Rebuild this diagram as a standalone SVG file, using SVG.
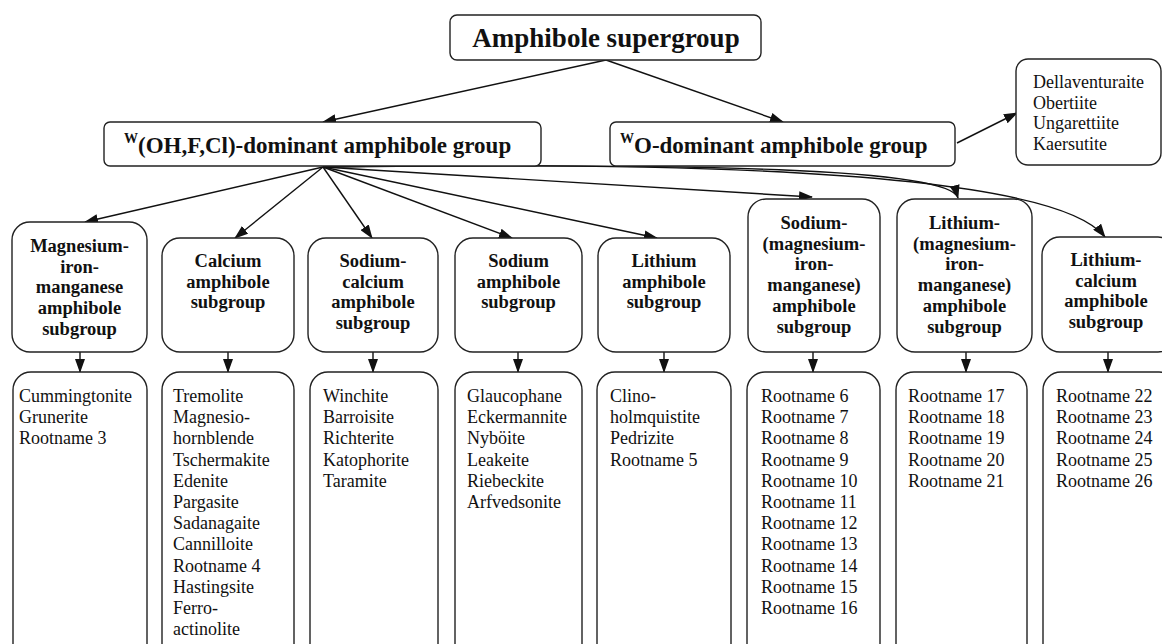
<svg xmlns="http://www.w3.org/2000/svg" width="1162" height="644" viewBox="0 0 1162 644">
<defs>
<marker id="ah" markerWidth="14" markerHeight="10" refX="13" refY="5" orient="auto" markerUnits="userSpaceOnUse">
<path d="M0,0 L14,5 L0,10 Z" fill="#111"/>
</marker>
<style>
.box{fill:#fff;stroke:#222;stroke-width:1.4}
.c{fill:none;stroke:#111;stroke-width:1.4;marker-end:url(#ah)}
.b{font-family:"Liberation Serif","Times New Roman",serif;font-weight:bold;fill:#111}
.sg{font-size:18.5px;text-anchor:middle}
.r{font-family:"Liberation Serif","Times New Roman",serif;font-size:18px;fill:#111}
</style>
</defs>
<rect width="1162" height="644" fill="#fff"/>

<g id="connectors">
<path class="c" d="M606,60 L323,122"/>
<path class="c" d="M606,60 L783,122"/>
<path class="c" d="M957,143 L1017,113"/>
<path class="c" d="M323,167 L85,222"/>
<path class="c" d="M323,167 L235,238"/>
<path class="c" d="M323,167 L372,238"/>
<path class="c" d="M323,167 L512,238"/>
<path class="c" d="M323,167 L657,238"/>
<path class="c" d="M323,167 L812,197"/>
<path class="c" d="M323,167 C700,163 950,168 958,198"/>
<path class="c" d="M323,167 C760,160 1060,178 1105,237"/>
<path class="c" d="M80,352 L80,372"/>
<path class="c" d="M228,352 L228,372"/>
<path class="c" d="M373,352 L373,372"/>
<path class="c" d="M518,352 L518,372"/>
<path class="c" d="M664,352 L664,372"/>
<path class="c" d="M813,352 L813,372"/>
<path class="c" d="M966,352 L966,372"/>
<path class="c" d="M1108,352 L1108,372"/>
</g>

<g id="supergroup">
<rect class="box" x="450" y="15" width="311" height="45" rx="7"/>
<text class="b" x="606" y="47" font-size="27" text-anchor="middle">Amphibole supergroup</text>
</g>

<g id="group-oh">
<rect class="box" x="104" y="122" width="437" height="44" rx="6"/>
<text class="b" x="124" y="153" font-size="23"><tspan font-size="14" dy="-10">W</tspan><tspan dy="10">(OH,F,Cl)-dominant amphibole group</tspan></text>
</g>

<g id="group-o">
<rect class="box" x="610" y="122" width="345" height="44" rx="6"/>
<text class="b" x="620" y="153" font-size="23"><tspan font-size="14" dy="-10">W</tspan><tspan dy="10">O-dominant amphibole group</tspan></text>
</g>

<g id="list-o">
<rect class="box" x="1016" y="59" width="145" height="106" rx="12"/>
<text class="r" font-size="16.5" x="1033" y="88">Dellaventuraite</text>
<text class="r" font-size="16.5" x="1033" y="108.5">Obertiite</text>
<text class="r" font-size="16.5" x="1033" y="129">Ungarettiite</text>
<text class="r" font-size="16.5" x="1033" y="149.5">Kaersutite</text>
</g>

<g id="sg-mgfemn">
<rect class="box" x="12" y="222" width="135" height="130" rx="18"/>
<text class="b sg" x="79.5" y="252">Magnesium-</text>
<text class="b sg" x="79.5" y="272.7">iron-</text>
<text class="b sg" x="79.5" y="293.4">manganese</text>
<text class="b sg" x="79.5" y="314.1">amphibole</text>
<text class="b sg" x="79.5" y="334.8">subgroup</text>
</g>

<g id="sg-ca">
<rect class="box" x="162" y="238" width="132" height="114" rx="18"/>
<text class="b sg" x="228" y="267">Calcium</text>
<text class="b sg" x="228" y="287.7">amphibole</text>
<text class="b sg" x="228" y="308.4">subgroup</text>
</g>

<g id="sg-naca">
<rect class="box" x="308" y="238" width="130" height="114" rx="18"/>
<text class="b sg" x="373" y="267">Sodium-</text>
<text class="b sg" x="373" y="287.7">calcium</text>
<text class="b sg" x="373" y="308.4">amphibole</text>
<text class="b sg" x="373" y="329.1">subgroup</text>
</g>

<g id="sg-na">
<rect class="box" x="455" y="238" width="127" height="114" rx="18"/>
<text class="b sg" x="518.5" y="267">Sodium</text>
<text class="b sg" x="518.5" y="287.7">amphibole</text>
<text class="b sg" x="518.5" y="308.4">subgroup</text>
</g>

<g id="sg-li">
<rect class="box" x="598" y="238" width="132" height="114" rx="18"/>
<text class="b sg" x="664" y="267">Lithium</text>
<text class="b sg" x="664" y="287.7">amphibole</text>
<text class="b sg" x="664" y="308.4">subgroup</text>
</g>

<g id="sg-na-mgfemn">
<rect class="box" x="748" y="199" width="132" height="153" rx="18"/>
<text class="b sg" x="814" y="229">Sodium-</text>
<text class="b sg" x="814" y="249.7">(magnesium-</text>
<text class="b sg" x="814" y="270.4">iron-</text>
<text class="b sg" x="814" y="291.1">manganese)</text>
<text class="b sg" x="814" y="311.8">amphibole</text>
<text class="b sg" x="814" y="332.5">subgroup</text>
</g>

<g id="sg-li-mgfemn">
<rect class="box" x="897" y="199" width="135" height="153" rx="18"/>
<text class="b sg" x="964.5" y="229">Lithium-</text>
<text class="b sg" x="964.5" y="249.7">(magnesium-</text>
<text class="b sg" x="964.5" y="270.4">iron-</text>
<text class="b sg" x="964.5" y="291.1">manganese)</text>
<text class="b sg" x="964.5" y="311.8">amphibole</text>
<text class="b sg" x="964.5" y="332.5">subgroup</text>
</g>

<g id="sg-lica">
<rect class="box" x="1042" y="237" width="134" height="115" rx="18"/>
<text class="b sg" x="1106" y="266">Lithium-</text>
<text class="b sg" x="1106" y="286.7">calcium</text>
<text class="b sg" x="1106" y="307.4">amphibole</text>
<text class="b sg" x="1106" y="328.1">subgroup</text>
</g>

<g id="list-mgfemn">
<rect class="box" x="13" y="372" width="134" height="290" rx="18"/>
<text class="r" x="19" y="402">Cummingtonite</text>
<text class="r" x="19" y="423.2">Grunerite</text>
<text class="r" x="19" y="444.4">Rootname 3</text>
</g>

<g id="list-ca">
<rect class="box" x="162" y="372" width="132" height="290" rx="18"/>
<text class="r" x="173" y="402">Tremolite</text>
<text class="r" x="173" y="423.2">Magnesio-</text>
<text class="r" x="173" y="444.4">hornblende</text>
<text class="r" x="173" y="465.6">Tschermakite</text>
<text class="r" x="173" y="486.8">Edenite</text>
<text class="r" x="173" y="508">Pargasite</text>
<text class="r" x="173" y="529.2">Sadanagaite</text>
<text class="r" x="173" y="550.4">Cannilloite</text>
<text class="r" x="173" y="571.6">Rootname 4</text>
<text class="r" x="173" y="592.8">Hastingsite</text>
<text class="r" x="173" y="614">Ferro-</text>
<text class="r" x="173" y="635.2">actinolite</text>
</g>

<g id="list-naca">
<rect class="box" x="310" y="372" width="128" height="290" rx="18"/>
<text class="r" x="323" y="402">Winchite</text>
<text class="r" x="323" y="423.2">Barroisite</text>
<text class="r" x="323" y="444.4">Richterite</text>
<text class="r" x="323" y="465.6">Katophorite</text>
<text class="r" x="323" y="486.8">Taramite</text>
</g>

<g id="list-na">
<rect class="box" x="455" y="372" width="127" height="290" rx="18"/>
<text class="r" x="467" y="402">Glaucophane</text>
<text class="r" x="467" y="423.2">Eckermannite</text>
<text class="r" x="467" y="444.4">Nyböite</text>
<text class="r" x="467" y="465.6">Leakeite</text>
<text class="r" x="467" y="486.8">Riebeckite</text>
<text class="r" x="467" y="508">Arfvedsonite</text>
</g>

<g id="list-li">
<rect class="box" x="597" y="372" width="134" height="290" rx="18"/>
<text class="r" x="610" y="402">Clino-</text>
<text class="r" x="610" y="423.2">holmquistite</text>
<text class="r" x="610" y="444.4">Pedrizite</text>
<text class="r" x="610" y="465.6">Rootname 5</text>
</g>

<g id="list-na-mgfemn">
<rect class="box" x="747" y="372" width="133" height="290" rx="18"/>
<text class="r" x="761" y="402">Rootname 6</text>
<text class="r" x="761" y="423.2">Rootname 7</text>
<text class="r" x="761" y="444.4">Rootname 8</text>
<text class="r" x="761" y="465.6">Rootname 9</text>
<text class="r" x="761" y="486.8">Rootname 10</text>
<text class="r" x="761" y="508">Rootname 11</text>
<text class="r" x="761" y="529.2">Rootname 12</text>
<text class="r" x="761" y="550.4">Rootname 13</text>
<text class="r" x="761" y="571.6">Rootname 14</text>
<text class="r" x="761" y="592.8">Rootname 15</text>
<text class="r" x="761" y="614">Rootname 16</text>
</g>

<g id="list-li-mgfemn">
<rect class="box" x="896" y="372" width="131" height="290" rx="18"/>
<text class="r" x="908" y="402">Rootname 17</text>
<text class="r" x="908" y="423.2">Rootname 18</text>
<text class="r" x="908" y="444.4">Rootname 19</text>
<text class="r" x="908" y="465.6">Rootname 20</text>
<text class="r" x="908" y="486.8">Rootname 21</text>
</g>

<g id="list-lica">
<rect class="box" x="1043" y="372" width="134" height="290" rx="18"/>
<text class="r" x="1056" y="402">Rootname 22</text>
<text class="r" x="1056" y="423.2">Rootname 23</text>
<text class="r" x="1056" y="444.4">Rootname 24</text>
<text class="r" x="1056" y="465.6">Rootname 25</text>
<text class="r" x="1056" y="486.8">Rootname 26</text>
</g>
</svg>
